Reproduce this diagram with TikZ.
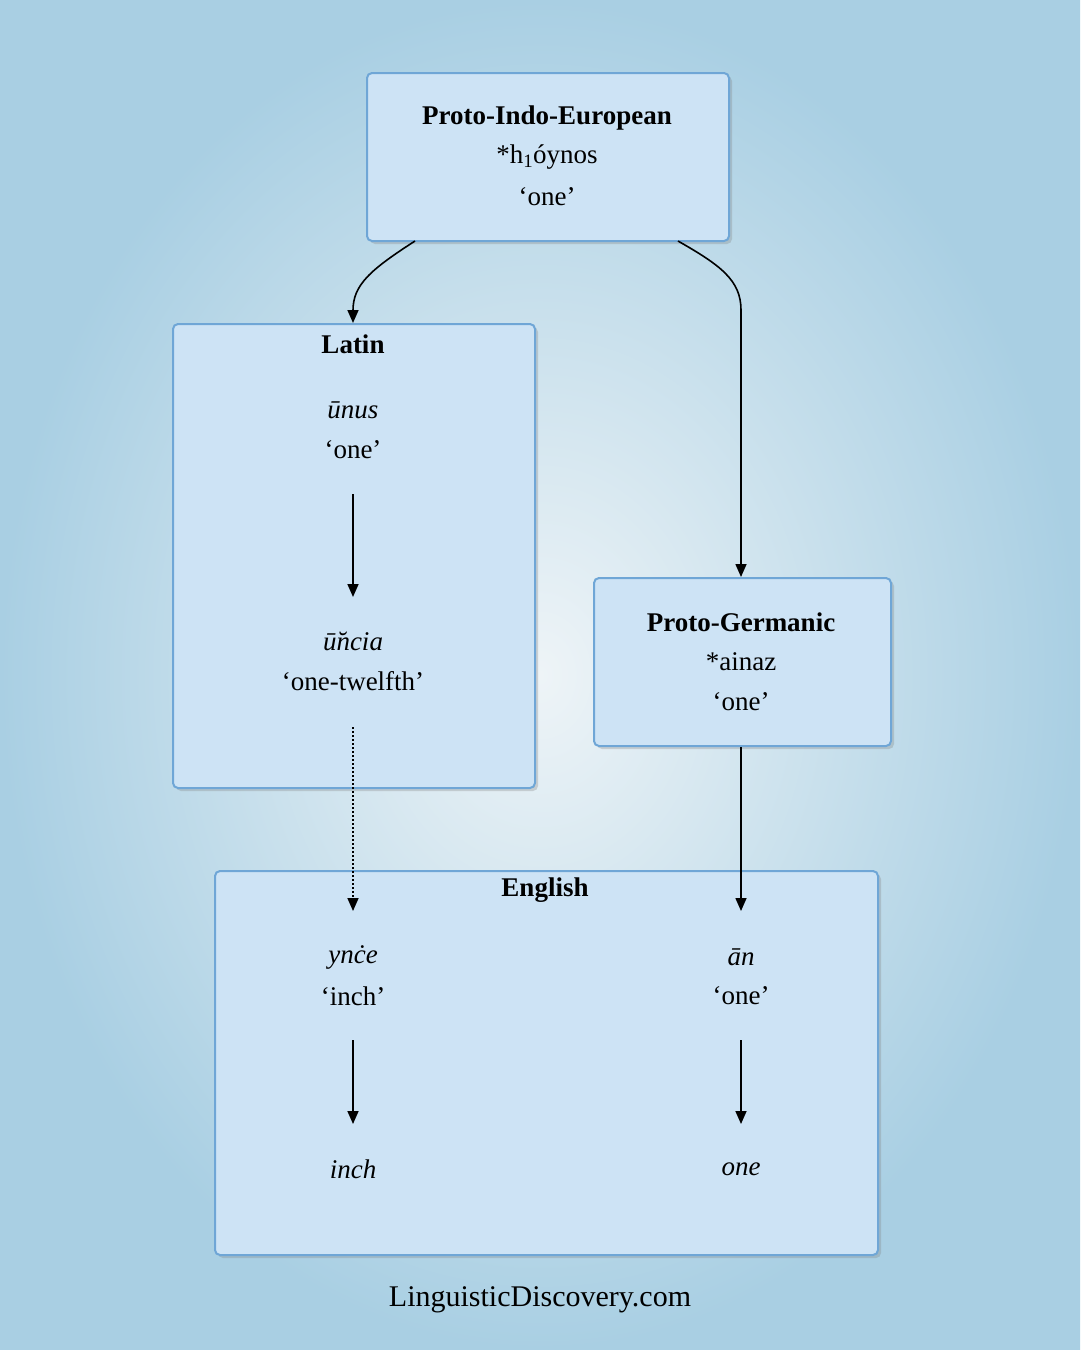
\documentclass[tikz,border=0pt]{standalone}
\usepackage{fontspec}
\setmainfont{Liberation Serif}
\usetikzlibrary{arrows.meta,shadows}
\definecolor{bgout}{HTML}{A9CFE3}
\definecolor{bgin}{HTML}{EEF4F7}
\definecolor{boxfill}{HTML}{CDE3F5}
\definecolor{boxline}{HTML}{6FA6D6}
\begin{document}
\begin{tikzpicture}[x=1pt,y=-1pt,
  box/.style={draw=boxline,line width=2pt,fill=boxfill,rounded corners=5pt,drop shadow={shadow xshift=3pt,shadow yshift=-3pt,opacity=0.3}},
  txt/.style={font=\fontsize{27}{32}\selectfont,inner sep=0pt},
  ttl/.style={txt,font=\fontsize{27}{32}\selectfont\bfseries},
  it/.style={txt,font=\fontsize{27}{32}\selectfont\itshape},
  arr/.style={-{Triangle[length=13pt,width=11pt]},line width=1.6pt}]
\shade[inner color=bgin,outer color=bgout] (0,0) rectangle (1080,1350);
\useasboundingbox (0,0) rectangle (1080,1350);
% boxes
\node[box,minimum width=362,minimum height=168,anchor=north west] (pie) at (366,72) {};
\node[box,minimum width=362,minimum height=464,anchor=north west] (lat) at (172,323) {};
\node[box,minimum width=297,minimum height=168,anchor=north west] (pg) at (593,577) {};
\node[box,minimum width=663,minimum height=384,anchor=north west] (en) at (214,870) {};
% PIE
\node[ttl] (t1) at (547,118) {Proto-Indo-European};
\node[txt] (p1) at (547,157) {*h\textsubscript{1}óynos};
\node[txt] (p2) at (547,197) {‘one’};
% Latin
\node[ttl] (t2) at (353,344) {Latin};
\node[it] (l1) at (353,410) {ūnus};
\node[txt] (l2) at (353,450) {‘one’};
\coordinate (la) at (353,494);
\coordinate (lb) at (353,597);
\node[it] (l3) at (353,641) {ū̆ncia};
\node[txt] (l4) at (353,681) {‘one-twelfth’};
% PG
\node[ttl] (t3) at (741,622) {Proto-Germanic};
\node[txt] (g1) at (741,662) {*ainaz};
\node[txt] (g2) at (741,702) {‘one’};
% English
\node[ttl] (t4) at (545,890) {English};
\node[it] (e1) at (353,957) {ynċe};
\node[txt] (e2) at (353,996) {‘inch’};
\node[it] (e3) at (353,1169) {inch};
\node[it] (e4) at (741,957) {ān};
\node[txt] (e5) at (741,996) {‘one’};
\node[it] (e6) at (741,1169) {one};
\coordinate (ea) at (353,1040); \coordinate (eb) at (353,1124);
\coordinate (ec) at (741,1040); \coordinate (ed) at (741,1124);
% connectors
\coordinate (s1) at (415,241); \coordinate (s2) at (678,241);
\coordinate (x1) at (353,323); \coordinate (x2) at (741,577);
\draw[arr] (s1) .. controls (370,270) and (353,285) .. (x1);
\draw[arr] (s2) .. controls (720,265) and (741,280) .. (741,310) -- (x2);
\draw[arr] (la) -- (lb);
\coordinate (d1) at (353,727); \coordinate (d2) at (353,911);
\draw[arr,dash pattern=on 2pt off 2pt] (d1) -- (d2);
\coordinate (g3) at (741,747); \coordinate (g4) at (741,911);
\draw[arr] (g3) -- (g4);
\draw[arr] (ea) -- (eb);
\draw[arr] (ec) -- (ed);
\node[txt,font=\fontsize{30}{35}\selectfont] (foot) at (540,1300) {LinguisticDiscovery.com};
\end{tikzpicture}
\end{document}
